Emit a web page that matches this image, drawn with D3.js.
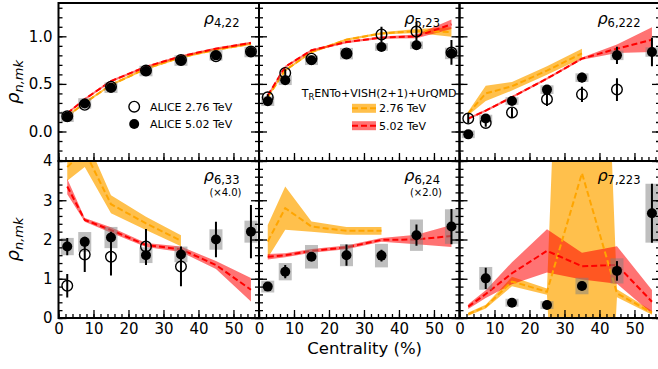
<!DOCTYPE html>
<html><head><meta charset="utf-8">
<script src="https://cdn.jsdelivr.net/npm/d3@7"></script>
<style>body{margin:0;background:#fff} text{font-family:"DejaVu Sans",sans-serif;fill:#000}</style>
</head><body><svg id="c" width="658" height="369"></svg>
<script>
// ---------------- data ----------------
const cent = [2.5, 7.5, 15, 25, 35, 45, 55];
const xTicks = [0, 10, 20, 30, 40, 50];
const yTicksTop = [0, 0.5, 1.0];
const yTicksBottom = [0, 1, 2, 3, 4];
const xTitle = "Centrality (%)";

// rho_{4,22}
const r422_a276 = [0.16, 0.28, 0.47, 0.64, 0.75, 0.79, 0.84];
const r422_a276Err = [0.015, 0.015, 0.015, 0.015, 0.015, 0.02, 0.02];
const r422_a502 = [0.155, 0.295, 0.46, 0.635, 0.745, 0.80, 0.835];
const r422_a502Err = [0.01, 0.01, 0.01, 0.01, 0.01, 0.01, 0.01];
const r422_a502Sys = [0.055, 0.055, 0.055, 0.055, 0.055, 0.055, 0.055];
const r422_m276 = [0.16, 0.30, 0.49, 0.66, 0.78, 0.86, 0.92];
const r422_m276W = [0.012, 0.012, 0.012, 0.012, 0.012, 0.012, 0.012];
const r422_m502 = [0.19, 0.34, 0.53, 0.68, 0.79, 0.87, 0.93];
const r422_m502W = [0.012, 0.012, 0.012, 0.012, 0.012, 0.012, 0.012];

// rho_{5,23}
const r523_a276 = [0.36, 0.615, 0.765, 0.82, 1.02, 1.05, 0.83];
const r523_a276Err = [0.03, 0.04, 0.03, 0.04, 0.08, 0.10, 0.13];
const r523_a502 = [0.318, 0.538, 0.748, 0.818, 0.888, 0.906, 0.82];
const r523_a502Err = [0.02, 0.03, 0.02, 0.03, 0.03, 0.03, 0.04];
const r523_a502Sys = [0.05, 0.05, 0.05, 0.06, 0.04, 0.04, 0.06];
const r523_m276 = [0.36, 0.643, 0.835, 0.965, 1.03, 1.056, 1.045];
const r523_m276W = [0.012, 0.012, 0.012, 0.012, 0.012, 0.02, 0.05];
const r523_m502 = [0.38, 0.68, 0.853, 0.94, 0.986, 1.0, 1.126];
const r523_m502W = [0.012, 0.012, 0.012, 0.012, 0.012, 0.02, 0.05];

// rho_{6,222}
const r6222_a276 = [0.136, 0.09, 0.2, 0.339, 0.39, 0.44, null];
const r6222_a276Err = [0.05, 0.04, 0.05, 0.07, 0.08, 0.12, null];
const r6222_a502 = [-0.03, 0.136, 0.32, 0.44, 0.566, 0.80, 0.835];
const r6222_a502Err = [0.03, 0.03, 0.02, 0.04, 0.05, 0.09, 0.15];
const r6222_a502Sys = [0.04, 0.04, 0.04, 0.045, 0.045, 0.05, 0.05];
const r6222_m276 = [0.19, 0.40, 0.475, 0.64, 0.82, null, null];
const r6222_m276W = [0.02, 0.08, 0.045, 0.045, 0.05, null, null];
const r6222_m502 = [0.136, 0.22, 0.36, 0.556, 0.766, 0.87, 0.965];
const r6222_m502W = [0.012, 0.012, 0.012, 0.012, 0.012, 0.045, 0.13];

// rho_{6,33} (x4.0)
const r633_a276 = [0.82, 1.62, 1.56, 1.82, 1.31, null, null];
const r633_a276Err = [0.3, 0.45, 0.48, 0.45, 0.5, null, null];
const r633_a502 = [1.82, 1.94, 2.05, 1.6, 1.62, 2.0, 2.2];
const r633_a502Err = [0.22, 0.12, 0.15, 0.25, 0.2, 0.45, 0.68];
const r633_a502Sys = [0.22, 0.25, 0.27, 0.2, 0.2, 0.26, 0.28];
const r633_m276 = [3.85, 4.25, 2.9, 2.41, 1.97, null, null];
const r633_m276W = [0.35, 0.4, 0.23, 0.17, 0.14, null, null];
const r633_m502 = [3.35, 2.5, 2.24, 1.86, 1.75, 1.35, 0.72];
const r633_m502W = [0.2, 0.05, 0.07, 0.05, 0.07, 0.1, 0.3];

// rho_{6,24} (x2.0)
const r624_a502 = [0.80, 1.18, 1.56, 1.6, 1.59, 2.11, 2.33];
const r624_a502Err = [0.05, 0.17, 0.05, 0.27, 0.15, 0.27, 0.45];
const r624_a502Sys = [0.15, 0.22, 0.3, 0.28, 0.3, 0.4, 0.44];
const r624_m276 = [1.95, 2.8, 2.33, 2.22, 2.22, null, null];
const r624_m276W = [0.42, 0.55, 0.13, 0.1, 0.1, null, null];
const r624_m502 = [1.56, 1.6, 1.71, 1.8, 1.99, 2.0, 2.09];
const r624_m502W = [0.07, 0.05, 0.05, 0.05, 0.05, 0.12, 0.28];

// rho_{7,223}
const r7223_a502 = [null, 1.01, 0.39, 0.33, 0.815, 1.2, 2.67];
const r7223_a502Err = [null, 0.27, 0.05, 0.05, 0.1, 0.25, 0.75];
const r7223_a502Sys = [null, 0.29, 0.1, 0.1, 0.21, 0.32, 0.75];
const r7223_m276 = [0.1, 0.29, 0.93, 0.67, 3.69, 0.63, 0.135];
const r7223_m276W = [0.04, 0.05, 0.12, 0.08, 20, 0.1, 0.05];
const r7223_m502 = [0.29, 0.61, 1.14, 1.71, 1.32, 1.35, 0.415];
const r7223_m502W = [0.06, 0.1, 0.28, 0.55, 0.34, 0.48, 0.3];

// ---------------- layout ----------------
const svg = d3.select("#c");
const colLeft = [58.5, 259, 459.5];
const panelW = 200.5;
const rowTop = [3, 161];
const rowBot = [161, 318];
const yDomains = [[-0.31, 1.35], [0, 4]];
const ORANGE = "#FFA500", RED = "#FF0000";

const panels = [
  {row:0,col:0,sub:"4,22",note:null,a276:r422_a276,a276e:r422_a276Err,a502:r422_a502,a502e:r422_a502Err,a502s:r422_a502Sys,m276:r422_m276,m276w:r422_m276W,m502:r422_m502,m502w:r422_m502W},
  {row:0,col:1,sub:"5,23",note:null,a276:r523_a276,a276e:r523_a276Err,a502:r523_a502,a502e:r523_a502Err,a502s:r523_a502Sys,m276:r523_m276,m276w:r523_m276W,m502:r523_m502,m502w:r523_m502W},
  {row:0,col:2,sub:"6,222",note:null,a276:r6222_a276,a276e:r6222_a276Err,a502:r6222_a502,a502e:r6222_a502Err,a502s:r6222_a502Sys,m276:r6222_m276,m276w:r6222_m276W,m502:r6222_m502,m502w:r6222_m502W},
  {row:1,col:0,sub:"6,33",note:"(×4.0)",a276:r633_a276,a276e:r633_a276Err,a502:r633_a502,a502e:r633_a502Err,a502s:r633_a502Sys,m276:r633_m276,m276w:r633_m276W,m502:r633_m502,m502w:r633_m502W},
  {row:1,col:1,sub:"6,24",note:"(×2.0)",a276:null,a276e:null,a502:r624_a502,a502e:r624_a502Err,a502s:r624_a502Sys,m276:r624_m276,m276w:r624_m276W,m502:r624_m502,m502w:r624_m502W},
  {row:1,col:2,sub:"7,223",note:null,a276:null,a276e:null,a502:r7223_a502,a502e:r7223_a502Err,a502s:r7223_a502Sys,m276:r7223_m276,m276w:r7223_m276W,m502:r7223_m502,m502w:r7223_m502W}
];

panels.forEach((p, i) => {
  const L = colLeft[p.col], R = L + panelW, T = rowTop[p.row], B = rowBot[p.row];
  const x = d3.scaleLinear().domain([0, 57.3]).range([L, R]);
  const y = d3.scaleLinear().domain(yDomains[p.row]).range([B, T]);
  const g = svg.append("g");
  const clipId = "clip" + i;
  svg.append("clipPath").attr("id", clipId).append("rect")
    .attr("x", L).attr("y", T).attr("width", panelW).attr("height", B - T);
  const pg = g.append("g").attr("clip-path", `url(#${clipId})`);

  function modelData(mid, w) {
    return cent.map((c, k) => ({c, m: mid[k], w: w[k]})).filter(d => d.m != null);
  }
  const area = d3.area().x(d => x(d.c)).y0(d => y(d.m - d.w)).y1(d => y(d.m + d.w));
  const line = d3.line().x(d => x(d.c)).y(d => y(d.m));
  const d276 = modelData(p.m276, p.m276w), d502 = modelData(p.m502, p.m502w);
  pg.append("path").datum(d276).attr("d", area).attr("fill", ORANGE).attr("fill-opacity", 0.7);
  pg.append("path").datum(d502).attr("d", area).attr("fill", RED).attr("fill-opacity", 0.55);
  pg.append("path").datum(d276).attr("d", line).attr("fill", "none").attr("stroke", ORANGE)
    .attr("stroke-width", 2).attr("stroke-dasharray", "6,3");
  pg.append("path").datum(d502).attr("d", line).attr("fill", "none").attr("stroke", RED)
    .attr("stroke-width", 2).attr("stroke-dasharray", "6,3");

  // data
  const f502 = cent.map((c, k) => ({c, v: p.a502[k], e: p.a502e[k], s: p.a502s[k]})).filter(d => d.v != null);
  pg.selectAll(".sys").data(f502).join("rect")
    .attr("x", d => x(d.c) - 6.5).attr("width", 13)
    .attr("y", d => y(d.v + d.s)).attr("height", d => y(d.v - d.s) - y(d.v + d.s))
    .attr("fill", "#808080").attr("fill-opacity", 0.5);
  if (p.a276) {
    const f276 = cent.map((c, k) => ({c, v: p.a276[k], e: p.a276e[k]})).filter(d => d.v != null);
    pg.selectAll(".e276").data(f276).join("line")
      .attr("x1", d => x(d.c)).attr("x2", d => x(d.c))
      .attr("y1", d => y(d.v - d.e)).attr("y2", d => y(d.v + d.e))
      .attr("stroke", "#000").attr("stroke-width", 2);
    pg.selectAll(".o276").data(f276).join("circle")
      .attr("cx", d => x(d.c)).attr("cy", d => y(d.v)).attr("r", 5.3)
      .attr("fill", "none").attr("stroke", "#000").attr("stroke-width", 1.4);
  }
  pg.selectAll(".e502").data(f502).join("line")
    .attr("x1", d => x(d.c)).attr("x2", d => x(d.c))
    .attr("y1", d => y(d.v - d.e)).attr("y2", d => y(d.v + d.e))
    .attr("stroke", "#000").attr("stroke-width", 2);
  pg.selectAll(".f502").data(f502).join("circle")
    .attr("cx", d => x(d.c)).attr("cy", d => y(d.v)).attr("r", 5)
    .attr("fill", "#000");

  // axes
  const yTicks = p.row === 0 ? yTicksTop : yTicksBottom;
  const yMinor = p.row === 0 ? d3.range(-0.3, 1.351, 0.1) : d3.range(0, 4.01, 0.2);
  const fmt = p.row === 0 ? d3.format(".1f") : d3.format("d");
  g.append("g").attr("transform", `translate(${L},0)`)
    .call(d3.axisLeft(y).tickValues(yTicks).tickSize(-8).tickPadding(6).tickFormat(p.col === 0 ? fmt : ""));
  g.append("g").attr("transform", `translate(${L},0)`)
    .call(d3.axisLeft(y).tickValues(yMinor).tickSize(-4).tickFormat(""));
  g.append("g").attr("transform", `translate(${R},0)`)
    .call(d3.axisRight(y).tickValues(yTicks).tickSize(-8).tickFormat(""));
  g.append("g").attr("transform", `translate(${R},0)`)
    .call(d3.axisRight(y).tickValues(yMinor).tickSize(-4).tickFormat(""));
  g.append("g").attr("transform", `translate(0,${B})`)
    .call(d3.axisBottom(x).tickValues(xTicks).tickSize(-8).tickPadding(5).tickFormat(p.row === 1 ? d3.format("d") : ""));
  g.append("g").attr("transform", `translate(0,${B})`)
    .call(d3.axisBottom(x).tickValues(d3.range(0, 57, 2)).tickSize(-4).tickFormat(""));
  g.selectAll(".domain").remove();
  g.selectAll(".tick line").attr("stroke", "#000").attr("stroke-width", 1.3);
  g.selectAll(".tick text").style("font-size", "15px").style("font-family", "DejaVu Sans").attr("fill", "#000");
  g.append("rect").attr("x", L).attr("y", T).attr("width", panelW).attr("height", B - T)
    .attr("fill", "none").attr("stroke", "#000").attr("stroke-width", 2);

  // panel label
  const ly = T + (p.row === 0 ? 21 : 20);
  const lt = g.append("text").attr("x", L + 181).attr("y", ly).attr("text-anchor", "end")
    .style("font-size", "16px");
  lt.append("tspan").text("ρ").style("font-style", "italic");
  lt.append("tspan").text(p.sub).style("font-size", "11.5px").attr("dy", 3);
  if (p.note) {
    g.append("text").attr("x", L + 183).attr("y", ly + 14.5).attr("text-anchor", "end")
      .style("font-size", "10px").text(p.note);
  }

  // legends
  if (i === 0) {
    const lx = L + 75.7;
    g.append("circle").attr("cx", lx).attr("cy", 106.7).attr("r", 5.3).attr("fill", "none").attr("stroke", "#000").attr("stroke-width", 1.4);
    g.append("circle").attr("cx", lx).attr("cy", 124).attr("r", 5).attr("fill", "#000");
    g.append("text").attr("x", L + 91.5).attr("y", 110.7).style("font-size", "11px").text("ALICE 2.76 TeV");
    g.append("text").attr("x", L + 91.5).attr("y", 128).style("font-size", "11px").text("ALICE 5.02 TeV");
  }
  if (i === 1) {
    const tt = g.append("text").attr("x", L + 42.7).attr("y", 97).style("font-size", "11px");
    tt.append("tspan").text("T");
    tt.append("tspan").text("R").style("font-size", "8.5px").attr("dy", 3);
    tt.append("tspan").text("ENTo+VISH(2+1)+UrQMD").attr("dy", -3);
    const sw = [[ORANGE, 0.7, 108.3, "2.76 TeV"], [RED, 0.55, 125.7, "5.02 TeV"]];
    sw.forEach(([col, op, cy, lab]) => {
      g.append("rect").attr("x", L + 93).attr("y", cy - 4.5).attr("width", 24).attr("height", 9)
        .attr("fill", col).attr("fill-opacity", op);
      g.append("line").attr("x1", L + 93).attr("x2", L + 117).attr("y1", cy).attr("y2", cy)
        .attr("stroke", col).attr("stroke-width", 2).attr("stroke-dasharray", "6,3");
      g.append("text").attr("x", L + 120).attr("y", cy + 4).style("font-size", "11px").text(lab);
    });
  }
});

// y titles
[82, 239.5].forEach(cy => {
  const t = svg.append("text").attr("transform", `translate(18.5,${cy}) rotate(-90)`)
    .attr("text-anchor", "middle").style("font-size", "18px");
  t.append("tspan").text("ρ").style("font-style", "italic");
  t.append("tspan").text("n,mk").style("font-style", "italic").style("font-size", "13px").attr("dy", 4);
});
// x title
svg.append("text").attr("x", 364.7).attr("y", 354).attr("text-anchor", "middle")
  .style("font-size", "16.5px").text(xTitle);
</script></body></html>
